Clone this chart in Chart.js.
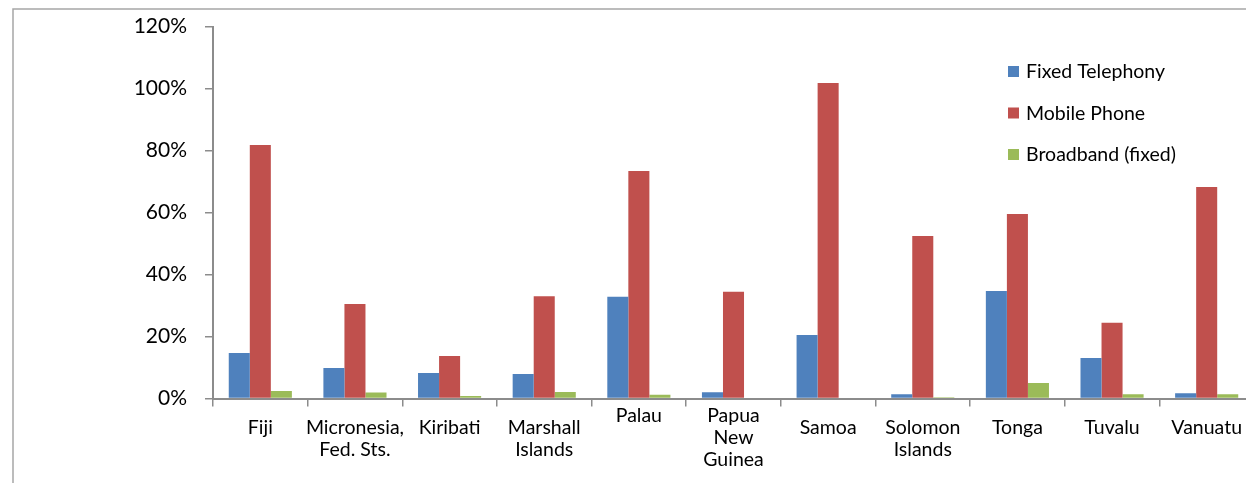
<!DOCTYPE html>
<html>
<head>
<meta charset="utf-8">
<script src="https://cdn.jsdelivr.net/npm/chart.js@4.4.1/dist/chart.umd.min.js"></script>
<style>
  html, body { margin: 0; padding: 0; background: #fff; overflow: hidden; }
  #wrap { position: relative; width: 1260px; height: 483px; }
</style>
</head>
<body>
<div id="wrap"><canvas id="c" width="1260" height="483"></canvas></div>
<script>
// Penetration rates (% of population) by Pacific island country
const countries = [
  ['Fiji'], ['Micronesia,', 'Fed. Sts.'], ['Kiribati'], ['Marshall', 'Islands'],
  ['Palau'], ['Papua', 'New', 'Guinea'], ['Samoa'], ['Solomon', 'Islands'],
  ['Tonga'], ['Tuvalu'], ['Vanuatu']
];
const fixedTelephony = [14.7, 9.8, 8.2, 7.9, 32.8, 2.0, 20.5, 1.4, 34.7, 13.1, 1.7];
const mobilePhone    = [81.8, 30.5, 13.7, 33.0, 73.4, 34.4, 101.8, 52.4, 59.5, 24.4, 68.2];
const broadbandFixed = [2.4, 1.9, 0.8, 2.1, 1.2, 0.0, 0.0, 0.4, 5.0, 1.4, 1.4];
const seriesNames = ['Fixed Telephony', 'Mobile Phone', 'Broadband (fixed)'];
const yTicks = [0, 20, 40, 60, 80, 100, 120];

const colors = ['#4F81BD', '#C0504D', '#9BBB59'];
const axisColor = '#8C8C8C';
const textFont = 'Lato, "Open Sans", sans-serif';

// Outer frame around the whole chart
const framePlugin = {
  id: 'frame',
  beforeDraw(chart) {
    const ctx = chart.ctx;
    ctx.save();
    ctx.strokeStyle = '#A6A6A6';
    ctx.lineWidth = 1.5;
    ctx.strokeRect(13, 9, 2000, 2000);
    ctx.restore();
  }
};

// Category labels under the x axis; Palau and Papua New Guinea sit one half-line higher
const raisedLabels = new Set(['Palau', 'Papua']);
const categoryLabelPlugin = {
  id: 'categoryLabels',
  afterDraw(chart) {
    const ctx = chart.ctx;
    const xs = chart.scales.x;
    const base = chart.chartArea.bottom + 29.5;
    const lineGap = 22;
    ctx.save();
    ctx.font = '19.5px ' + textFont;
    ctx.fillStyle = '#000';
    ctx.textAlign = 'center';
    ctx.textBaseline = 'middle';
    chart.data.labels.forEach((lines, i) => {
      const x = xs.getPixelForValue(i);
      const top = raisedLabels.has(lines[0]) ? base - 12 : base;
      lines.forEach((t, j) => ctx.fillText(t, x, top + j * lineGap));
    });
    ctx.restore();
  }
};

// Legend stacked vertically inside the plot area, top right
const legendPlugin = {
  id: 'stackedLegend',
  afterDraw(chart) {
    const ctx = chart.ctx;
    ctx.save();
    ctx.font = '19.5px ' + textFont;
    ctx.textBaseline = 'middle';
    chart.data.datasets.forEach((ds, i) => {
      const y = 72 + i * 41.5;
      ctx.fillStyle = ds.backgroundColor;
      ctx.fillRect(1008, y - 6, 11, 11);
      ctx.fillStyle = '#000';
      ctx.fillText(ds.label, 1026, y);
    });
    ctx.restore();
  }
};

new Chart(document.getElementById('c'), {
  type: 'bar',
  data: {
    labels: countries,
    datasets: [
      { label: seriesNames[0], data: fixedTelephony, backgroundColor: colors[0] },
      { label: seriesNames[1], data: mobilePhone, backgroundColor: colors[1] },
      { label: seriesNames[2], data: broadbandFixed, backgroundColor: colors[2] }
    ]
  },
  options: {
    responsive: false,
    animation: false,
    devicePixelRatio: 1,
    layout: { padding: { top: 26.5, right: 6, bottom: 0, left: 0 } },
    datasets: { bar: { categoryPercentage: 0.667, barPercentage: 1.0 } },
    plugins: {
      legend: { display: false },
      tooltip: { enabled: false }
    },
    scales: {
      x: {
        offset: true,
        grid: {
          display: true, drawOnChartArea: false, drawTicks: true,
          tickLength: 8, color: axisColor, lineWidth: 1.5, offset: true
        },
        border: { display: true, color: axisColor, width: 2 },
        ticks: { display: false, autoSkip: false },
        afterFit(scale) { scale.height = 84.5; }
      },
      y: {
        min: 0, max: 120,
        afterBuildTicks(scale) { scale.ticks = yTicks.map(v => ({ value: v })); },
        grid: {
          display: true, drawOnChartArea: false, drawTicks: true,
          tickLength: 8, color: axisColor, lineWidth: 1.5
        },
        border: { display: true, color: axisColor, width: 2 },
        ticks: {
          color: '#000', font: { family: textFont, size: 21 },
          padding: 18, callback: v => v + '%'
        },
        afterFit(scale) {
          scale.width = 213;
          scale.paddingTop = 0;
          scale.paddingBottom = 0;
        }
      }
    }
  },
  plugins: [framePlugin, categoryLabelPlugin, legendPlugin]
});
</script>
</body>
</html>
